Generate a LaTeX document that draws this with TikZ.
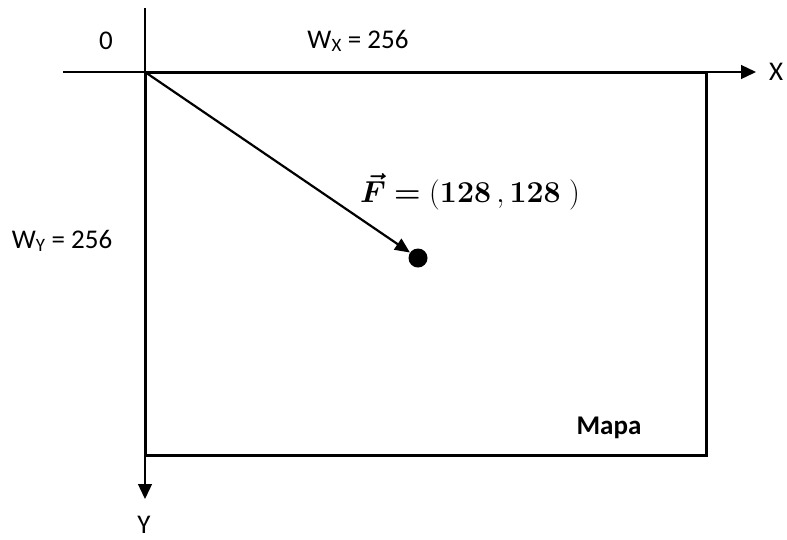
\documentclass[tikz,border=0pt]{standalone}
\usepackage{amsmath}
\usepackage[no-math]{fontspec}
\setmainfont{Carlito}
\usetikzlibrary{arrows.meta, positioning}

\begin{document}
\begin{tikzpicture}[x=1pt, y=-1pt,
    lbl/.style={font=\fontsize{27}{32}\selectfont, inner sep=0pt},
    axis/.style={line width=1.3pt, -{Triangle[length=15pt, width=14pt]}},
    frame/.style={line width=3pt},
    vec/.style={line width=2.2pt, -{Triangle[length=15pt, width=13pt]}},
    pt/.style={circle, fill=black, inner sep=0pt, minimum size=19pt}
]
    \useasboundingbox (0,0) rectangle (787,539);
    % origin and map corners
    \coordinate (O) at (145,72);
    \coordinate (SE) at (706,455);
    \coordinate (xstart) at (63,72);
    \coordinate (xend) at (756,72);
    \coordinate (ystart) at (145,8);
    \coordinate (yend) at (145,499);
    \draw[frame] (O) rectangle (SE);
    \draw[axis] (xstart) -- (xend);
    \draw[axis] (ystart) -- (yend);
    \node[pt] (F) at (418,258) {};
    \draw[vec, shorten <=1pt] (O) -- (F);
    % labels
    \node[lbl] (xlbl) at (776,72) {X};
    \node[lbl] (ylbl) at (144,525) {Y};
    \node[lbl] (zero) at (106,41) {0};
    \node[lbl] (wx) at (358,41) {W\textsubscript{X} = 256};
    \node[lbl] (wy) at (62,241) {W\textsubscript{Y} = 256};
    \node[lbl, font=\fontsize{27}{32}\selectfont\bfseries] (mapa) at (609,428) {Mapa};
    \node[font=\Huge, inner sep=0pt] (flbl) at (470,192)
        {\scalebox{1.22}{$\boldsymbol{\vec{F}} \boldsymbol{=} \mathbf{(128\,,128\;)}$}};
\end{tikzpicture}
\end{document}
